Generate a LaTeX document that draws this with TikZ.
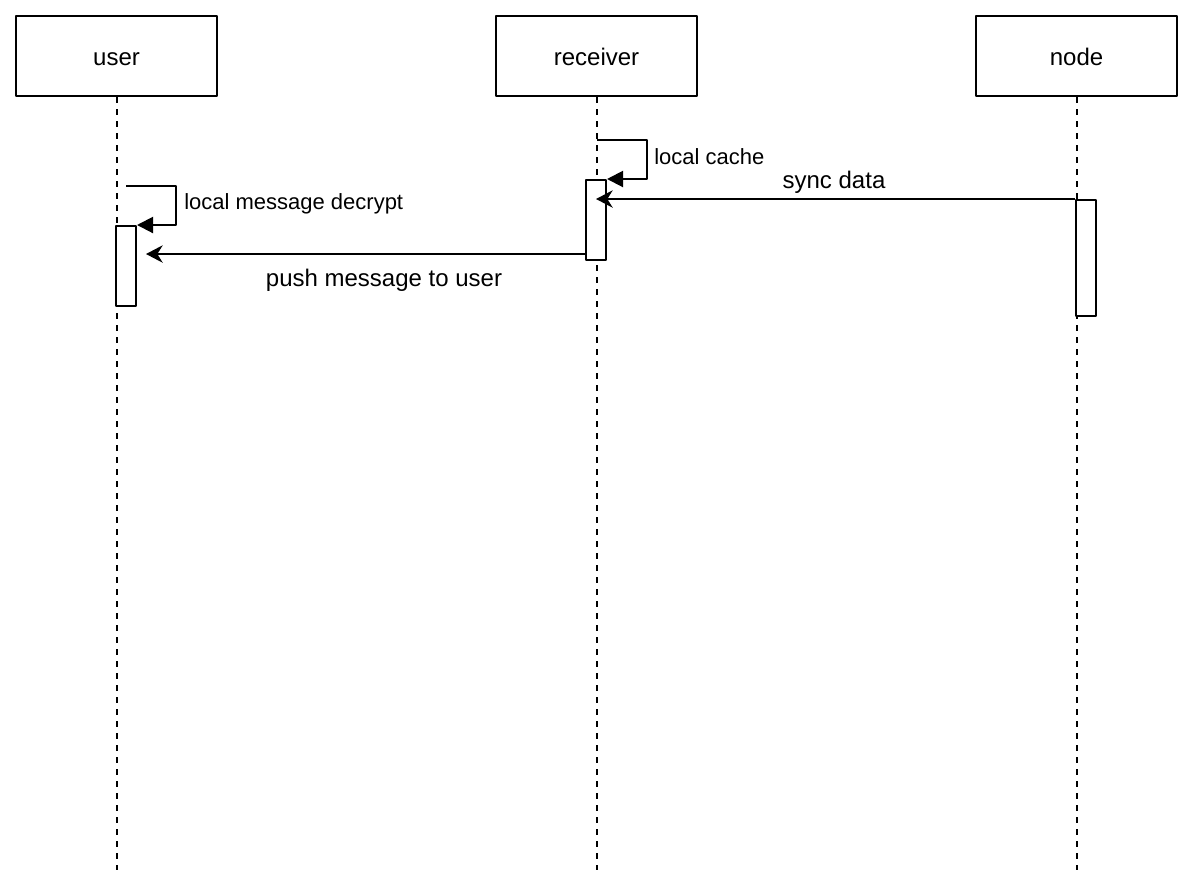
\documentclass[tikz,border=0pt]{standalone}
\usepackage{fontspec}
\setmainfont{Liberation Sans}
\usetikzlibrary{arrows.meta,positioning}

\tikzset{
  actor/.style={draw,line width=1.5pt,minimum width=150.75pt,minimum height=60pt,text height=17.5pt,text depth=3.5pt,font=\fontsize{18}{21}\selectfont},
  bar/.style={draw,fill=white,line width=1.5pt,minimum width=15pt,inner sep=0pt},
  lifeline/.style={line width=1.5pt,dash pattern=on 4.5pt off 4.5pt},
  msg/.style={line width=1.5pt,-{Stealth[length=12.5pt,width=13pt,inset=4pt]}},
  selfmsg/.style={line width=1.5pt,-{Triangle[length=12pt,width=12pt]}},
  msglabel/.style={font=\fontsize{18}{21}\selectfont,inner sep=0pt},
  selflabel/.style={font=\fontsize{16.5}{20}\selectfont,inner sep=0pt,anchor=west}
}

\begin{document}
\begin{tikzpicture}[x=0.75pt,y=-0.75pt,line join=round]
  \useasboundingbox (0,0) rectangle (1194,894);

  % participants
  \node[actor] (user) at (116.5,56) {user};
  \node[actor] (receiver) at (596.5,56) {receiver};
  \node[actor] (nd) at (1076.5,56) {node};

  \coordinate (userend) at (116.5,870);
  \coordinate (receiverend) at (596.5,870);
  \coordinate (ndend) at (1076.5,870);
  \draw[lifeline] (user.south) -- (userend);
  \draw[lifeline] (receiver.south) -- (receiverend);
  \draw[lifeline] (nd.south) -- (ndend);

  % activations
  \node[bar,minimum height=60pt] (ubar) at (126,266) {};
  \node[bar,minimum height=60pt] (rbar) at (596,220) {};
  \node[bar,minimum height=87pt] (nbar) at (1086,258) {};

  % self calls
  \coordinate (rself) at (596.5,140);
  \draw[selfmsg] (rself) -- ++(50,0) |- (rbar.north east);
  \node[selflabel] (cachelbl) at (654,157) {local cache};

  \coordinate (uself) at (126,186);
  \draw[selfmsg] (uself) -- ++(50,0) |- (ubar.north east);
  \node[selflabel] (decryptlbl) at (184,204) {local message decrypt};

  % messages
  \draw[msg] (nbar.north west) -- (nbar.north west -| rbar.center);
  \node[msglabel] (synclbl) at (834,182) {sync data};

  \coordinate (pushstart) at (586,254);
  \coordinate (pushend) at (146,254);
  \draw[msg] (pushstart) -- (pushend);
  \node[msglabel] (pushlbl) at (384,280) {push message to user};
\end{tikzpicture}
\end{document}
